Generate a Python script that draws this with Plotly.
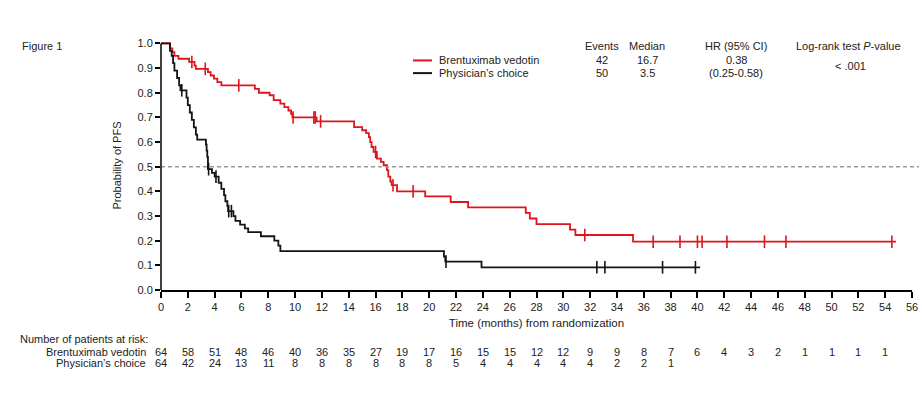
import numpy as np
import plotly.graph_objects as go

# ---------------- data ----------------
bv_times = [0, 0.67, 0.85, 1.0, 1.3, 2.1, 2.5, 2.6, 3.5, 3.7, 3.95, 4.2, 4.5, 7.0, 7.3, 8.1, 8.4,
            8.9, 9.2, 9.5, 9.7, 9.8, 11.6, 14.4, 15.0, 15.3, 15.5, 15.6, 15.7, 15.85, 16.1, 16.4,
            16.6, 16.85, 16.95, 17.1, 17.2, 17.6, 19.7, 21.6, 22.9, 27.2, 27.5, 28.0, 30.5, 30.9,
            35.2]
bv_surv = [1.0, 0.98, 0.965, 0.95, 0.938, 0.925, 0.91, 0.897, 0.884, 0.87, 0.857, 0.843, 0.83,
           0.816, 0.80, 0.79, 0.77, 0.756, 0.742, 0.728, 0.714, 0.70, 0.684, 0.661, 0.648, 0.636,
           0.62, 0.60, 0.58, 0.56, 0.533, 0.52, 0.506, 0.486, 0.46, 0.44, 0.425, 0.40, 0.38, 0.357,
           0.335, 0.313, 0.29, 0.267, 0.245, 0.223, 0.196]
bv_end = 54.8
bv_censor = [2.3, 3.3, 5.8, 9.85, 11.4, 11.5, 11.9, 16.0, 17.3, 18.8, 31.6, 36.7, 38.7, 40.0,
             40.35, 42.2, 45.0, 46.6, 54.5]

pc_times = [0, 0.67, 0.8, 0.9, 1.0, 1.2, 1.35, 1.45, 1.9, 2.0, 2.15, 2.3, 2.45, 2.6, 2.7, 3.35,
            3.4, 3.45, 3.5, 3.8, 4.0, 4.3, 4.5, 4.7, 4.8, 4.95, 5.0, 5.4, 5.55, 5.9, 6.25, 6.5,
            7.45, 8.45, 8.75, 8.9, 21.1, 21.2, 23.9]
pc_surv = [1.0, 0.97, 0.95, 0.92, 0.89, 0.86, 0.83, 0.81, 0.78, 0.75, 0.72, 0.69, 0.66, 0.63,
           0.61, 0.59, 0.565, 0.54, 0.49, 0.475, 0.46, 0.435, 0.41, 0.385, 0.36, 0.34, 0.32, 0.30,
           0.28, 0.265, 0.25, 0.235, 0.218, 0.20, 0.18, 0.158, 0.135, 0.115, 0.092]
pc_end = 40.2
pc_censor = [1.55, 3.55, 4.1, 5.05, 5.25, 21.25, 32.5, 33.1, 37.4, 39.85]

risk_months = list(range(0, 56, 2))
bv_risk = [64, 58, 51, 48, 46, 40, 36, 35, 27, 19, 17, 16, 15, 15, 12, 12, 9, 9, 8, 7, 6, 4, 3, 2,
           1, 1, 1, 1]
pc_risk = [64, 42, 24, 13, 11, 8, 8, 8, 8, 8, 8, 5, 4, 4, 4, 4, 4, 2, 2, 1]

series_names = ["Brentuximab vedotin", "Physician\u2019s choice"]
events = ["42", "50"]
medians = ["16.7", "3.5"]
hr_text = ["0.38", "(0.25-0.58)"]
pval_text = "< .001"

RED = "#e0141c"
BLK = "#141414"
FONT = "Liberation Sans, Arial, sans-serif"
FS = 11

# ---------------- geometry (reference pixel coords) ----------------
W, H = 922, 398
L, R = 161, 912          # x=0 and x=56 pixel
Y0, Y1 = 290, 43         # y=0 and y=1 pixel
YMAX = 1.01
top_px = Y0 - (Y0 - Y1) * YMAX


def px_x(px):
    return (px - L) / (R - L)


def px_y(py):
    return (Y0 - py) / (Y0 - top_px)


def step_xy(times, surv, end):
    xs = list(times) + [end]
    ys = list(surv) + [surv[-1]]
    return xs, ys


def at(times, surv, t):
    i = np.searchsorted(np.array(times), t, side="right") - 1
    return surv[i]


fig = go.Figure()

for times, surv, end, cens, col in [
    (bv_times, bv_surv, bv_end, bv_censor, RED),
    (pc_times, pc_surv, pc_end, pc_censor, BLK),
]:
    xs, ys = step_xy(times, surv, end)
    fig.add_trace(go.Scatter(x=xs, y=ys, mode="lines", line=dict(color=col, width=1.8, shape="hv"),
                             showlegend=False, hoverinfo="skip"))
    fig.add_trace(go.Scatter(x=cens, y=[at(times, surv, t) for t in cens], mode="markers",
                             marker=dict(symbol="line-ns", size=9, line=dict(color=col, width=1.6)),
                             showlegend=False, hoverinfo="skip"))

shapes = []
shapes.append(dict(type="line", xref="paper", yref="y", x0=0, x1=px_x(919), y0=0.5, y1=0.5,
                   line=dict(color="#9a9a9a", width=1.5, dash="4px,3px")))
for yy, col in [(60, RED), (72.7, BLK)]:
    shapes.append(dict(type="line", xref="paper", yref="paper", x0=px_x(413), x1=px_x(432),
                       y0=px_y(yy), y1=px_y(yy), line=dict(color=col, width=2)))
shapes.append(dict(type="line", xref="paper", yref="y", x0=0, x1=0, y0=0, y1=1.0,
                   line=dict(color="black", width=1.5)))

ann = []


def text(x, y, s, size=FS, xanchor="center", color="#222"):
    ann.append(dict(x=px_x(x), y=px_y(y), xref="paper", yref="paper", text=s, showarrow=False,
                    xanchor=xanchor, yanchor="middle", font=dict(family=FONT, size=size, color=color)))


text(20, 46, "Figure 1", FS, "left")
text(602, 46, "Events")
text(647, 46, "Median")
text(736, 46, "HR (95% CI)")
text(848, 46, "Log-rank test <i>P</i>-value")
for i, yy in enumerate([60, 72.7]):
    text(437, yy, series_names[i], FS, "left")
    text(602, yy, events[i])
    text(647, yy, medians[i])
    text(736, yy, hr_text[i])
text(850, 66, pval_text)

text(18, 339.5, "Number of patients at risk:", FS, "left")
text(148, 352.5, series_names[0], FS, "right")
text(148, 363, series_names[1], FS, "right")
for m, n in zip(risk_months, bv_risk):
    text(L + (R - L) * m / 56, 352.5, str(n))
for m, n in zip(risk_months, pc_risk):
    text(L + (R - L) * m / 56, 363, str(n))

fig.update_layout(
    template="none",
    width=W, height=H, autosize=False,
    margin=dict(l=L, r=W - R, t=top_px, b=H - Y0, pad=0, autoexpand=False),
    paper_bgcolor="white", plot_bgcolor="white",
    shapes=shapes, annotations=ann,
    font=dict(family=FONT, size=FS, color="#222"),
    xaxis=dict(range=[0, 56], tickmode="array", tickvals=list(range(0, 57, 2)), automargin=False,
               showline=True, linecolor="black", linewidth=1.5, ticks="outside", ticklen=6,
               tickwidth=1.5, tickcolor="black", showgrid=False, zeroline=False,
               tickfont=dict(family=FONT, size=FS, color="#222"),
               title=dict(text="Time (months) from randomization", standoff=7,
                          font=dict(family=FONT, size=11.5, color="#222"))),
    yaxis=dict(range=[0, YMAX], tickmode="array", tickvals=[i / 10 for i in range(11)],
               ticktext=[f"{i / 10:.1f}" for i in range(11)], automargin=False,
               showline=False, ticks="outside", ticklen=5, tickwidth=1.5, tickcolor="black",
               showgrid=False, zeroline=False,
               tickfont=dict(family=FONT, size=FS, color="#222"),
               title=dict(text="Probability of PFS", standoff=13,
                          font=dict(family=FONT, size=FS, color="#222"))),
)

fig.write_html("out.html", config={"displayModeBar": False},
               post_script="document.body.style.margin='0';document.body.style.overflow='hidden';")
